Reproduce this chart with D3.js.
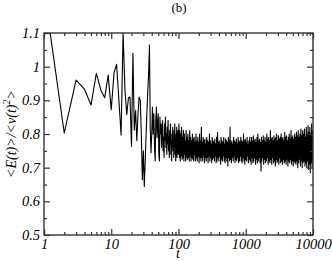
<!DOCTYPE html>
<html>
<head>
<meta charset="utf-8">
<script src="https://cdn.jsdelivr.net/npm/d3@7"></script>
<style>
  body { margin: 0; background: #fff; }
  svg { display: block; }
  .tickText { font-family: "Liberation Serif", "DejaVu Serif", serif; font-style: italic; font-size: 14.5px; fill: #000; }
</style>
</head>
<body>
<svg id="chart" width="332" height="261"></svg>
<script>
// integer times t = 1..100, resolved individually in the picture
var earlyT = d3.range(1, 101);
var earlyV = [
  1.23, 0.803, 0.96, 0.933, 0.886, 0.98, 0.931, 0.908, 0.975, 0.872,
  0.982, 1.007, 0.90, 0.797, 1.10, 0.93, 0.857, 0.907, 0.91, 0.763,
  1.04, 0.812, 0.87, 0.78, 0.86, 0.91, 0.90, 0.80, 0.664, 0.75,
  0.644, 0.72, 0.80, 0.87, 0.93, 0.98, 1.064, 0.82, 0.744, 0.80,
  0.88, 0.80, 0.86, 0.76, 0.72, 0.84, 0.88, 0.79, 0.83, 0.86,
  0.74, 0.72, 0.85, 0.80, 0.83, 0.76, 0.81, 0.84, 0.75, 0.79,
  0.73, 0.83, 0.78, 0.85, 0.76, 0.80, 0.74, 0.82, 0.77, 0.84,
  0.75, 0.79, 0.73, 0.81, 0.77, 0.83, 0.74, 0.78, 0.72, 0.80,
  0.76, 0.82, 0.75, 0.79, 0.73, 0.81, 0.76, 0.83, 0.74, 0.78,
  0.72, 0.80, 0.75, 0.82, 0.73, 0.79, 0.76, 0.81, 0.74, 0.78
];
// dense part (t > 100), values at evenly spaced log(t) positions
var bandV = [
  0.83, 0.73, 0.81, 0.72, 0.80, 0.735, 0.82, 0.725, 0.79, 0.73, 0.81, 0.72, 0.80, 0.74, 0.78, 0.72, 0.81, 0.73, 0.79, 0.725,
  0.80, 0.73, 0.78, 0.72, 0.81, 0.735, 0.79, 0.72, 0.78, 0.73, 0.80, 0.725, 0.785, 0.72, 0.79, 0.74, 0.775, 0.72, 0.80, 0.73,
  0.78, 0.72, 0.79, 0.735, 0.775, 0.715, 0.80, 0.73, 0.78, 0.72, 0.82, 0.73, 0.775, 0.72, 0.79, 0.735, 0.78, 0.715, 0.785, 0.73,
  0.77, 0.72, 0.79, 0.73, 0.78, 0.715, 0.775, 0.735, 0.80, 0.72, 0.78, 0.73, 0.77, 0.715, 0.79, 0.725, 0.78, 0.73, 0.775, 0.72,
  0.785, 0.735, 0.77, 0.715, 0.79, 0.72, 0.805, 0.73, 0.775, 0.72, 0.78, 0.735, 0.77, 0.71, 0.79, 0.725, 0.78, 0.72, 0.775, 0.735,
  0.79, 0.72, 0.77, 0.715, 0.785, 0.73, 0.78, 0.72, 0.775, 0.705, 0.79, 0.73, 0.78, 0.72, 0.82, 0.725, 0.775, 0.715, 0.78, 0.73,
  0.77, 0.72, 0.79, 0.735, 0.78, 0.715, 0.775, 0.725, 0.785, 0.72, 0.77, 0.73, 0.79, 0.715, 0.78, 0.72, 0.775, 0.735, 0.79, 0.72,
  0.78, 0.715, 0.775, 0.73, 0.80, 0.72, 0.78, 0.71, 0.785, 0.725, 0.775, 0.72, 0.79, 0.735, 0.77, 0.715, 0.78, 0.725, 0.79, 0.72,
  0.775, 0.71, 0.79, 0.73, 0.78, 0.715, 0.795, 0.72, 0.78, 0.73, 0.785, 0.71, 0.775, 0.725, 0.79, 0.715, 0.80, 0.72, 0.78, 0.73,
  0.785, 0.715, 0.775, 0.69, 0.79, 0.72, 0.78, 0.73, 0.795, 0.71, 0.78, 0.725, 0.79, 0.715, 0.775, 0.72, 0.80, 0.73, 0.785, 0.71,
  0.79, 0.72, 0.78, 0.715, 0.81, 0.725, 0.785, 0.71, 0.79, 0.73, 0.78, 0.715, 0.795, 0.72, 0.785, 0.705, 0.79, 0.725, 0.80, 0.715,
  0.78, 0.72, 0.795, 0.71, 0.785, 0.73, 0.79, 0.715, 0.80, 0.72, 0.785, 0.71, 0.79, 0.725, 0.78, 0.715, 0.805, 0.72, 0.79, 0.71,
  0.795, 0.725, 0.78, 0.705, 0.79, 0.72, 0.80, 0.715, 0.785, 0.725, 0.81, 0.71, 0.79, 0.72, 0.795, 0.705, 0.785, 0.72, 0.80, 0.715,
  0.79, 0.71, 0.805, 0.72, 0.795, 0.70, 0.81, 0.715, 0.79, 0.725, 0.80, 0.705, 0.815, 0.72, 0.795, 0.70, 0.81, 0.715, 0.80, 0.72,
  0.815, 0.705, 0.79, 0.715, 0.82, 0.70, 0.80, 0.72, 0.825, 0.695, 0.805, 0.71, 0.82, 0.685, 0.80, 0.715, 0.83, 0.70, 0.81, 0.72
];
var bandT = bandV.map(function(d, i){ return 100 * Math.pow(100, (i + 1) / bandV.length); });

var xTicks = [1, 10, 100, 1000, 10000];
var xTickLabels = ["1", "10", "100", "1000", "10000"];
var yTicks = [0.5, 0.6, 0.7, 0.8, 0.9, 1.0, 1.1];
var yTickLabels = ["0.5", "0.6", "0.7", "0.8", "0.9", "1", "1.1"];
var yMinorTicks = [0.55, 0.65, 0.75, 0.85, 0.95, 1.05];

var points = earlyT.map(function(t, i){ return [t, earlyV[i]]; })
  .concat(bandT.map(function(t, i){ return [t, bandV[i]]; }));

var plotL = 44, plotR = 313, plotT = 33, plotB = 235;
var svg = d3.select("#chart");

var x = d3.scaleLog().domain([1, 10000]).range([plotL, plotR]);
var y = d3.scaleLinear().domain([0.5, 1.1]).range([plotB, plotT]);

var xMinor = [];
[1, 10, 100, 1000].forEach(function(dec){
  for (var k = 2; k <= 9; k++) xMinor.push(dec * k);
});

svg.append("clipPath").attr("id", "plotClip")
  .append("rect").attr("x", plotL).attr("y", plotT).attr("width", plotR - plotL).attr("height", plotB - plotT);

//data line
svg.append("path")
  .datum(points)
  .attr("clip-path", "url(#plotClip)")
  .attr("fill", "none")
  .attr("stroke", "#000")
  .attr("stroke-width", 1.1)
  .attr("stroke-linejoin", "round")
  .attr("d", d3.line().x(function(d){ return x(d[0]); }).y(function(d){ return y(d[1]); }));

function styleAxis(g){
  g.select(".domain").remove();
  g.selectAll("line").attr("stroke", "#333").attr("stroke-width", 1.2);
  g.selectAll("text").attr("class", "tickText").attr("fill", null).attr("font-size", null).attr("font-family", null);
}

//bottom and top axes, ticks pointing inward
svg.append("g").attr("transform", "translate(0," + plotB + ")")
  .call(d3.axisBottom(x).tickValues(xTicks).tickSize(-6).tickPadding(4)
    .tickFormat(function(d, i){ return xTickLabels[i]; }))
  .call(styleAxis);
svg.append("g").attr("transform", "translate(0," + plotB + ")")
  .call(d3.axisBottom(x).tickValues(xMinor).tickSize(-3).tickFormat(""))
  .call(styleAxis);
svg.append("g").attr("transform", "translate(0," + plotT + ")")
  .call(d3.axisTop(x).tickValues(xTicks).tickSize(-6).tickFormat(""))
  .call(styleAxis);
svg.append("g").attr("transform", "translate(0," + plotT + ")")
  .call(d3.axisTop(x).tickValues(xMinor).tickSize(-3).tickFormat(""))
  .call(styleAxis);

//left and right axes
svg.append("g").attr("transform", "translate(" + plotL + ",0)")
  .call(d3.axisLeft(y).tickValues(yTicks).tickSize(-6).tickPadding(4)
    .tickFormat(function(d, i){ return yTickLabels[i]; }))
  .call(styleAxis);
svg.append("g").attr("transform", "translate(" + plotL + ",0)")
  .call(d3.axisLeft(y).tickValues(yMinorTicks).tickSize(-3).tickFormat(""))
  .call(styleAxis);
svg.append("g").attr("transform", "translate(" + plotR + ",0)")
  .call(d3.axisRight(y).tickValues(yTicks).tickSize(-6).tickFormat(""))
  .call(styleAxis);
svg.append("g").attr("transform", "translate(" + plotR + ",0)")
  .call(d3.axisRight(y).tickValues(yMinorTicks).tickSize(-3).tickFormat(""))
  .call(styleAxis);

//frame
svg.append("rect")
  .attr("x", plotL).attr("y", plotT).attr("width", plotR - plotL).attr("height", plotB - plotT)
  .attr("fill", "none").attr("stroke", "#333").attr("stroke-width", 1.4);

//title and axis labels
svg.append("text")
  .attr("x", 179).attr("y", 12)
  .attr("text-anchor", "middle")
  .style("font-family", "'Liberation Serif', serif").style("font-size", "13px")
  .text("(b)");

svg.append("text")
  .attr("x", 178).attr("y", 258)
  .attr("text-anchor", "middle")
  .attr("class", "tickText")
  .style("font-size", "14px")
  .text("t");

var yLab = svg.append("text")
  .attr("transform", "translate(16," + ((plotT + plotB) / 2) + ") rotate(-90)")
  .attr("text-anchor", "middle")
  .attr("class", "tickText")
  .style("font-size", "14px");
yLab.append("tspan").text("<E(t)>/<v(t)");
yLab.append("tspan").attr("dy", -6).style("font-size", "10px").text("2");
yLab.append("tspan").attr("dy", 6).text(">");
</script>
</body>
</html>
